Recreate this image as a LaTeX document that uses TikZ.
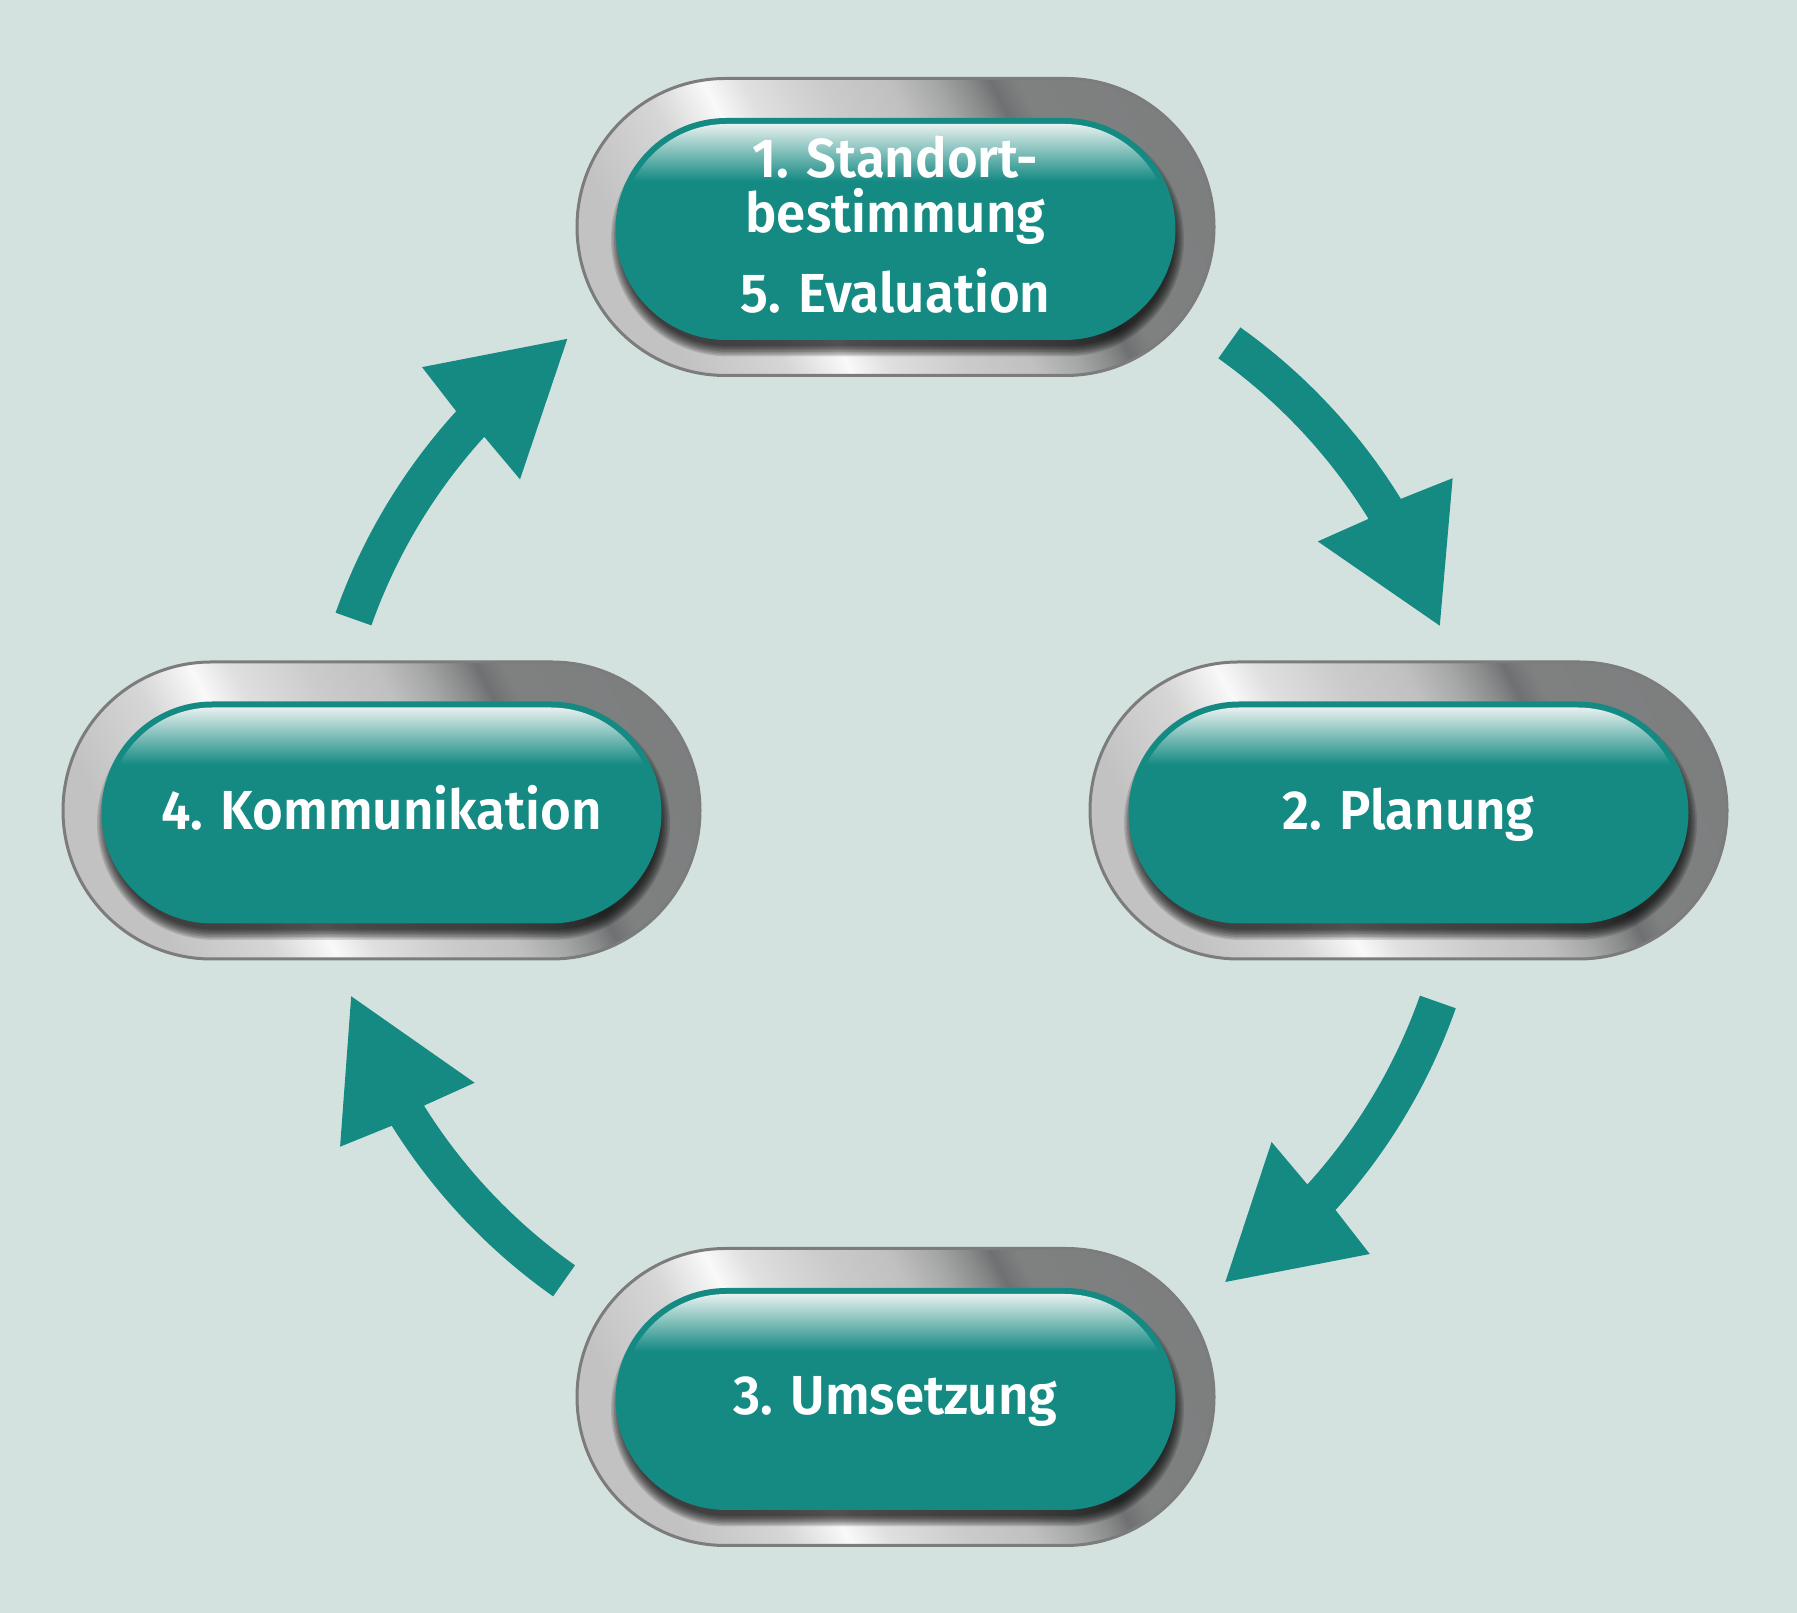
\documentclass[tikz,border=0pt]{standalone}
\usepackage{fontspec}
\setmainfont{Fira Sans}
\newfontfamily\pillfont{Fira Sans SemiBold}
\usepackage{graphicx}
\definecolor{bgc}{HTML}{D4E2DF}
\definecolor{tealc}{HTML}{158A83}
\definecolor{glossc}{HTML}{EAF2F0}
\definecolor{ringline}{HTML}{7C7C7C}
\definecolor{mA}{HTML}{C2C2C2}
\definecolor{mB}{HTML}{D6D6D6}
\definecolor{mC}{HTML}{F9F9F9}
\definecolor{mD}{HTML}{E0E0E0}
\definecolor{mE}{HTML}{CBCBCB}
\definecolor{mF}{HTML}{BFC0BF}
\definecolor{mG}{HTML}{A6A8A7}
\definecolor{mH}{HTML}{8A8C8C}
\definecolor{mI}{HTML}{6E7072}
\definecolor{mJ}{HTML}{7F8181}
\definecolor{mK}{HTML}{7B7C7D}
\pgfdeclarehorizontalshading{metal}{100bp}{color(0bp)=(mA); color(25bp)=(mA); color(34.4bp)=(mA); color(40bp)=(mB); color(43.4bp)=(mC); color(45.6bp)=(mD); color(50bp)=(mE); color(53.75bp)=(mF); color(56.25bp)=(mG); color(58.1bp)=(mH); color(59.4bp)=(mI); color(60.9bp)=(mJ); color(75bp)=(mK); color(100bp)=(mK)}
% stadium: centre x, centre y, half straight length, radius (all plain numbers)
\newcommand\stad[4]{({#1-#3},{#2-#4}) -- ({#1+#3},{#2-#4}) arc[start angle=-90,end angle=90,radius=#4] -- ({#1-#3},{#2+#4}) arc[start angle=90,end angle=270,radius=#4] -- cycle}
\newcommand\drawpill[2]{%
  \pgfmathsetmacro\pcx{#1}%
  \pgfmathsetmacro\pcy{#2}%
  \pgfmathsetmacro\picy{#2-2}%
  \pgfmathsetmacro\shx{#1+2}%
  \pgfmathsetmacro\shy{#2-12}%
  \begin{scope}
    \clip \stad{\pcx}{\pcy}{170}{149.5};
    \shade[shading=metal, transform canvas={rotate around={27:(\pcx,\pcy)}}] (\pcx-400,\pcy-400) rectangle (\pcx+400,\pcy+400);
    \foreach \k in {0,...,7} {\pgfmathsetmacro\rr{107+1.5*\k}\fill[black,opacity=0.13] \stad{\shx}{\shy}{169}{\rr};}
  \end{scope}
  \draw[ringline, line width=3] \stad{\pcx}{\pcy}{170}{148.5};
  \fill[tealc] \stad{\pcx}{\picy}{169}{111};
  \begin{scope}
    \clip \stad{\pcx}{\picy}{169}{105};
    \shade[top color=glossc, bottom color=tealc] (\pcx-300,\picy+106) rectangle (\pcx+300,\picy+48);
  \end{scope}
}
% tail angle, base angle, tip angle (travel towards smaller angles)
\newcommand\cycarrow[3]{%
  \pgfmathsetmacro\bo{#2-0.85}%
  \pgfmathsetmacro\bi{#2+0.85}%
  \fill[tealc] (#1:594) arc[start angle=#1, end angle=#2, radius=594] -- (\bo:649) -- (#3:575) -- (\bi:501) -- (#2:556) arc[start angle=#2, end angle=#1, radius=556] -- cycle;
}
\newcommand\ptxt[1]{\scalebox{0.96}[1]{#1}}
\begin{document}
\begin{tikzpicture}[x=1pt,y=1pt,
  lbl/.style={anchor=base, text=white, inner sep=0pt, font=\fontsize{55}{60}\pillfont}]
\fill[bgc] (0,0) rectangle (1797,1613);
\useasboundingbox (0,0) rectangle (1797,1613);
\coordinate (O) at (895.5,802);
\coordinate (c1) at (895.5,1386);
\coordinate (c2) at (1408.5,802.5);
\coordinate (c3) at (895.5,216);
\coordinate (c4) at (381.5,802.5);
\drawpill{895.5}{1386}
\drawpill{1408.5}{802.5}
\drawpill{895.5}{216}
\drawpill{381.5}{802.5}
\begin{scope}[shift={(O)}]
  \cycarrow{54.5}{31.7}{18.8}
  \cycarrow{-19.4}{-42.2}{-55}
  \cycarrow{-125.2}{-148}{-161.2}
  \cycarrow{160.5}{137.7}{124.8}
\end{scope}
\node[lbl] (t1a) at (895.5,1435) {\ptxt{1. Standort-}};
\node[lbl] (t1b) at (895.5,1380) {\ptxt{bestimmung}};
\node[lbl] (t5) at (895.5,1300) {\ptxt{5. Evaluation}};
\node[lbl] (t2) at (1408.5,783) {\ptxt{2. Planung}};
\node[lbl] (t3) at (895.5,198) {\ptxt{3. Umsetzung}};
\node[lbl] (t4) at (381.5,783) {\ptxt{4. Kommunikation}};
\end{tikzpicture}
\end{document}
